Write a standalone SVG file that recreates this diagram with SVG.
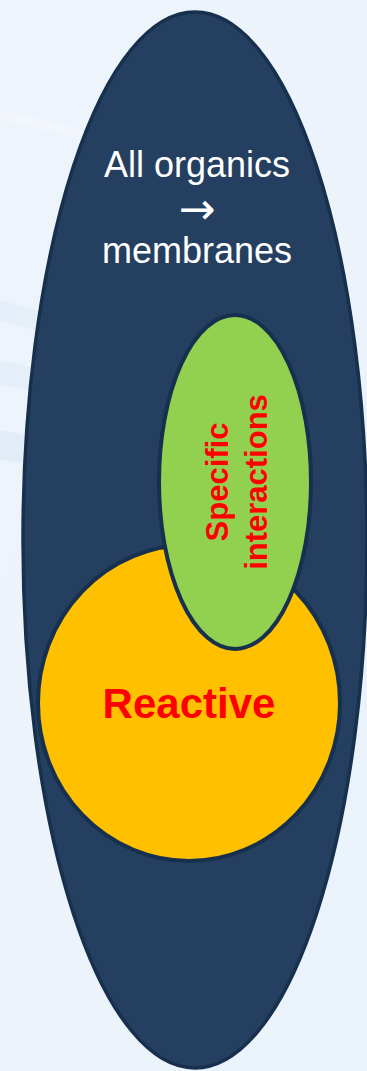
<svg xmlns="http://www.w3.org/2000/svg" width="367" height="1071" viewBox="0 0 367 1071">
<defs>
<linearGradient id="bg" x1="0" y1="0" x2="1" y2="1">
<stop offset="0" stop-color="#eef4fb"/>
<stop offset="1" stop-color="#eaf2fb"/>
</linearGradient>
<linearGradient id="streak" x1="0" y1="0" x2="1" y2="0">
<stop offset="0" stop-color="#c6dcf0" stop-opacity="0.6"/>
<stop offset="1" stop-color="#c6dcf0" stop-opacity="0"/>
</linearGradient>
</defs>
<style>
.shape{stroke:#17304d;}
.white{fill:#ffffff;font-family:"Liberation Sans",Arial,sans-serif;font-size:36px;text-anchor:middle;}
.red{fill:#ff0000;font-family:"Liberation Sans",Arial,sans-serif;font-weight:bold;text-anchor:middle;}
</style>
<rect x="0" y="0" width="367" height="1071" fill="url(#bg)"/>
<g id="background-streaks">
<path d="M0 300 Q120 330 200 390 L200 400 Q110 350 0 320 Z" fill="url(#streak)" opacity="0.35"/>
<path d="M0 360 Q100 380 200 430 L200 445 Q100 400 0 385 Z" fill="url(#streak)" opacity="0.35"/>
<path d="M0 430 Q90 445 200 500 L200 520 Q90 470 0 460 Z" fill="url(#streak)" opacity="0.5"/>
<path d="M0 110 Q100 130 200 170 L200 178 Q100 140 0 120 Z" fill="#ffffff" opacity="0.3"/>
</g>
<g id="all-organics">
<ellipse class="shape" cx="195" cy="540" rx="172" ry="528" fill="#243f60" stroke-width="3.5"/>
<text class="white" x="197" y="177">All organics</text>
<text class="white" x="197" y="224" style="font-family:'DejaVu Sans',sans-serif;font-size:44px">→</text>
<text class="white" x="197" y="263">membranes</text>
</g>
<g id="reactive">
<ellipse class="shape" cx="189" cy="703" rx="151" ry="158" fill="#ffc000" stroke-width="4"/>
<text class="red" x="189" y="718" font-size="42">Reactive</text>
</g>
<g id="specific-interactions">
<ellipse class="shape" cx="235" cy="482" rx="76" ry="167" fill="#92d050" stroke-width="4"/>
<text class="red" font-size="31" transform="translate(228,482) rotate(-90)">Specific</text>
<text class="red" font-size="31" transform="translate(267,482) rotate(-90)">interactions</text>
</g>
<g id="connectors"/>
</svg>
